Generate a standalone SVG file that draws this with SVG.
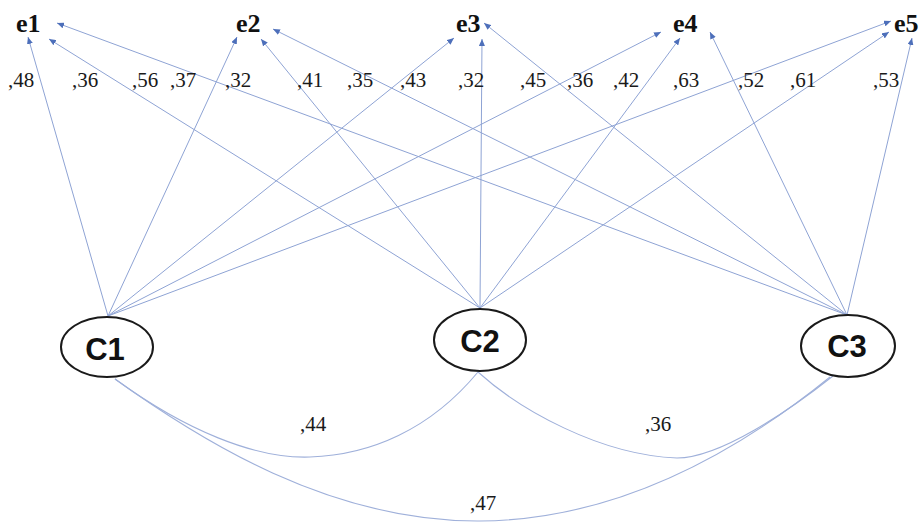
<svg xmlns="http://www.w3.org/2000/svg" width="924" height="523" viewBox="0 0 924 523">
  <style>
    .bg { fill: #ffffff; }
    .edge { fill: none; stroke: #8ea3d4; stroke-width: 1; }
    .cov { fill: none; stroke: #9fb0da; stroke-width: 1.1; }
    .node { fill: #ffffff; stroke: #1a1a1a; stroke-width: 2; }
    .nlabel { font-family: "Liberation Sans", Arial, sans-serif; font-weight: bold; font-size: 31px; fill: #111111; text-anchor: middle; }
    .elabel { font-family: "Liberation Serif", "Times New Roman", serif; font-weight: bold; font-size: 26px; fill: #111111; }
    .coef { font-family: "Liberation Serif", "Times New Roman", serif; font-size: 21px; fill: #1a1a1a; }
  </style>
  <defs>
    <marker id="arrow" viewBox="0 0 7 6" refX="7" refY="3" markerWidth="7" markerHeight="6" markerUnits="userSpaceOnUse" orient="auto">
      <path d="M0,0 L7,3 L0,6 z" fill="#4d6fba"/>
    </marker>
  </defs>
  <rect class="bg" x="0" y="0" width="924" height="523"/>

  <!-- loadings: each factor points to all five indicators -->
  <g id="connectors">
    <!-- from C1 -->
    <line class="edge" x1="108" y1="316" x2="28" y2="37" marker-end="url(#arrow)"/>
    <line class="edge" x1="108" y1="316" x2="237" y2="37" marker-end="url(#arrow)"/>
    <line class="edge" x1="108" y1="316" x2="454" y2="38" marker-end="url(#arrow)"/>
    <line class="edge" x1="108" y1="316" x2="661" y2="32" marker-end="url(#arrow)"/>
    <line class="edge" x1="108" y1="316" x2="891" y2="21" marker-end="url(#arrow)"/>
    <!-- from C2 -->
    <line class="edge" x1="480" y1="308" x2="49" y2="39" marker-end="url(#arrow)"/>
    <line class="edge" x1="480" y1="308" x2="261" y2="39" marker-end="url(#arrow)"/>
    <line class="edge" x1="480" y1="308" x2="482" y2="39" marker-end="url(#arrow)"/>
    <line class="edge" x1="480" y1="308" x2="680" y2="38" marker-end="url(#arrow)"/>
    <line class="edge" x1="480" y1="308" x2="889" y2="32" marker-end="url(#arrow)"/>
    <!-- from C3 -->
    <line class="edge" x1="847" y1="315" x2="57" y2="23" marker-end="url(#arrow)"/>
    <line class="edge" x1="847" y1="315" x2="273" y2="29" marker-end="url(#arrow)"/>
    <line class="edge" x1="847" y1="315" x2="484" y2="23" marker-end="url(#arrow)"/>
    <line class="edge" x1="847" y1="315" x2="710" y2="32" marker-end="url(#arrow)"/>
    <line class="edge" x1="847" y1="315" x2="912" y2="38" marker-end="url(#arrow)"/>

    <!-- factor covariances -->
    <path class="cov" d="M115,379 C185,430 255,459 310,457 C370,455 430,430 478,372"/>
    <path class="cov" d="M478,372 C520,410 600,455 677,458 C720,458 790,410 833,376"/>
    <path class="cov" d="M115,379 C200,440 330,522 480,521 C620,520 740,450 830,377"/>
  </g>

  <!-- indicators -->
  <g id="e1"><text class="elabel" x="16" y="32">e1</text></g>
  <g id="e2"><text class="elabel" x="236" y="32">e2</text></g>
  <g id="e3"><text class="elabel" x="456" y="32">e3</text></g>
  <g id="e4"><text class="elabel" x="673" y="32">e4</text></g>
  <g id="e5"><text class="elabel" x="894" y="32">e5</text></g>

  <!-- latent factors -->
  <g id="C1">
    <ellipse class="node" cx="107" cy="347" rx="46" ry="30"/>
    <text class="nlabel" x="105" y="360">C1</text>
  </g>
  <g id="C2">
    <ellipse class="node" cx="480" cy="340" rx="46" ry="31"/>
    <text class="nlabel" x="480" y="352">C2</text>
  </g>
  <g id="C3">
    <ellipse class="node" cx="848" cy="346" rx="47" ry="31"/>
    <text class="nlabel" x="847" y="357">C3</text>
  </g>

  <!-- loading coefficients -->
  <g id="coefficients">
    <text class="coef" x="8" y="87">,48</text>
    <text class="coef" x="72" y="87">,36</text>
    <text class="coef" x="132" y="87">,56</text>
    <text class="coef" x="170" y="87">,37</text>
    <text class="coef" x="225" y="87">,32</text>
    <text class="coef" x="297" y="87">,41</text>
    <text class="coef" x="347" y="87">,35</text>
    <text class="coef" x="400" y="87">,43</text>
    <text class="coef" x="458" y="87">,32</text>
    <text class="coef" x="520" y="87">,45</text>
    <text class="coef" x="567" y="87">,36</text>
    <text class="coef" x="613" y="87">,42</text>
    <text class="coef" x="673" y="87">,63</text>
    <text class="coef" x="738" y="87">,52</text>
    <text class="coef" x="790" y="87">,61</text>
    <text class="coef" x="873" y="87">,53</text>
    <!-- covariance values -->
    <text class="coef" x="300" y="431">,44</text>
    <text class="coef" x="645" y="431">,36</text>
    <text class="coef" x="470" y="510">,47</text>
  </g>
</svg>
